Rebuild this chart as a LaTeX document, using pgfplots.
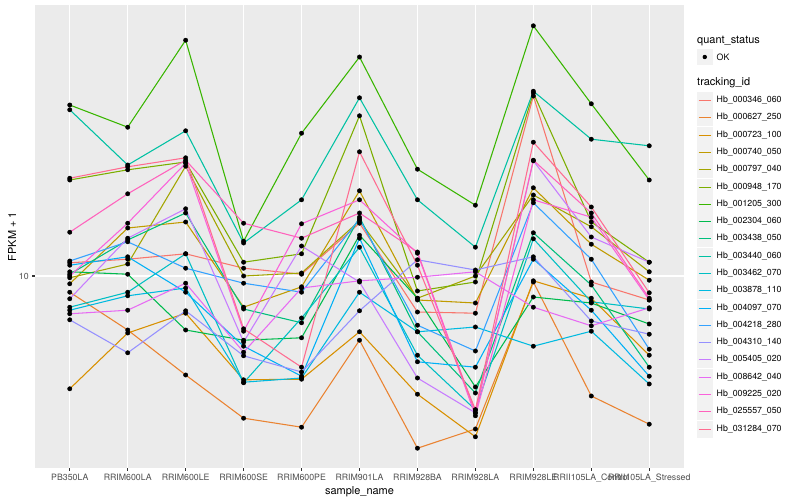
\documentclass[border=0pt]{standalone}
\usepackage{fontspec}
\setmainfont{TeX Gyre Heros}
\usepackage{pgfplots}
\usepackage{pgfplotstable}
\pgfplotsset{compat=1.18}

\definecolor{panelbg}{HTML}{EBEBEB}
\definecolor{keybg}{HTML}{F2F2F2}
\definecolor{tickcol}{HTML}{333333}
\definecolor{ticktext}{HTML}{4D4D4D}
% ggplot hue palette, 20 levels
\definecolor{s01}{HTML}{F8766D}
\definecolor{s02}{HTML}{EA8331}
\definecolor{s03}{HTML}{D89000}
\definecolor{s04}{HTML}{C09B00}
\definecolor{s05}{HTML}{A3A500}
\definecolor{s06}{HTML}{7CAE00}
\definecolor{s07}{HTML}{39B600}
\definecolor{s08}{HTML}{00BB4E}
\definecolor{s09}{HTML}{00BF7D}
\definecolor{s10}{HTML}{00C1A3}
\definecolor{s11}{HTML}{00BFC4}
\definecolor{s12}{HTML}{00BAE0}
\definecolor{s13}{HTML}{00B0F6}
\definecolor{s14}{HTML}{35A2FF}
\definecolor{s15}{HTML}{9590FF}
\definecolor{s16}{HTML}{C77CFF}
\definecolor{s17}{HTML}{E76BF3}
\definecolor{s18}{HTML}{FA62DB}
\definecolor{s19}{HTML}{FF62BC}
\definecolor{s20}{HTML}{FF6C91}

% log10(FPKM + 1), one row per sample (1 = PB350LA ... 11 = RRII105LA_Stressed)
\pgfplotstableread{
x  s01   s02   s03   s04   s05   s06   s07   s08   s09   s10   s11   s12   s13   s14   s15   s16   s17   s18   s19   s20
1  1.022 0.973 0.812 0.987 0.997 1.160 1.285 1.007 1.003 1.277 0.948 0.943 1.018 1.025 0.927 0.962 0.937 1.000 1.073 1.163
2  1.028 0.910 0.905 1.080 1.020 1.177 1.248 1.003 1.060 1.185 0.973 0.967 1.032 1.057 0.872 1.063 0.943 1.088 1.137 1.182
3  1.037 0.835 0.938 1.090 1.183 1.190 1.393 0.910 1.105 1.242 1.037 0.980 0.973 1.013 0.942 1.112 0.988 1.188 1.193 1.197
4  1.013 0.763 0.827 0.948 1.000 1.023 1.058 0.893 0.945 1.055 0.822 0.823 0.883 0.988 0.867 0.890 0.873 0.908 1.088 0.912
5  1.003 0.748 0.828 0.982 1.005 1.037 1.238 0.897 0.922 1.127 0.930 0.830 0.833 0.973 0.840 1.050 0.980 1.087 1.063 0.848
6  1.088 0.893 0.907 1.142 1.092 1.267 1.365 1.068 1.098 1.297 1.048 0.973 1.063 1.095 0.942 0.990 0.992 1.127 1.105 1.207
7  0.940 0.713 0.803 0.960 0.963 0.975 1.178 0.963 0.907 1.127 0.868 0.907 0.857 0.918 1.027 0.830 0.998 1.038 1.040 1.018
8  0.938 0.745 0.732 0.955 1.000 0.990 1.118 0.815 0.805 1.048 0.777 0.915 0.848 0.875 1.010 0.772 1.007 0.767 0.772 0.777
9  1.300 0.990 0.992 1.147 1.135 1.305 1.417 0.965 1.072 1.308 1.062 0.883 1.028 1.122 1.032 1.192 0.948 1.127 1.193 1.223
10 0.990 0.800 0.963 1.053 1.082 1.090 1.287 0.955 0.985 1.228 0.957 0.908 0.943 1.028 0.925 1.065 0.917 1.098 1.105 1.115
11 0.960 0.753 0.868 0.993 1.007 1.023 1.160 0.920 0.848 1.217 0.945 0.820 0.833 0.878 0.903 1.023 0.947 0.960 0.963 0.972
}\fpkm

\begin{document}
\begin{tikzpicture}[x=1bp,y=1bp]
\path[use as bounding box] (-35,-32) rectangle (765,468);
\begin{axis}[
    at={(0,0)}, anchor=south west, scale only axis,
    width=649bp, height=463bp,
    xmin=0.4, xmax=11.6, ymin=0.680, ymax=1.4517,
    axis background/.style={fill=panelbg},
    axis line style={draw=none},
    xtick={1,...,11},
    xticklabels={PB350LA,RRIM600LA,RRIM600LE,RRIM600SE,RRIM600PE,RRIM901LA,RRIM928BA,RRIM928LA,RRIM928LE,RRII105LA\_Control,RRII105LA\_Stressed},
    ytick={1}, yticklabels={10},
    xtick pos=bottom, ytick pos=left,
    grid=major, major grid style={white, line width=1.07bp},
    tick align=outside, major tick length=2.75bp,
    tick style={tickcol, line width=1.07bp},
    ticklabel style={font=\fontsize{8.8}{10}\selectfont, text=ticktext},
    xlabel={sample\_name}, ylabel={FPKM + 1},
    every axis x label/.style={at={(axis description cs:0.5,-0.0518)}, anchor=center, font=\fontsize{11}{13}\selectfont},
    every axis y label/.style={at={(axis description cs:-0.0354,0.5)}, rotate=90, anchor=center, font=\fontsize{11}{13}\selectfont},
]
\pgfplotsinvokeforeach{s01,s02,s03,s04,s05,s06,s07,s08,s09,s10,s11,s12,s13,s14,s15,s16,s17,s18,s19,s20}{
  \addplot[#1, line width=1.07bp, no marks] table[x=x, y=#1]{\fpkm};
}
\pgfplotsinvokeforeach{s01,s02,s03,s04,s05,s06,s07,s08,s09,s10,s11,s12,s13,s14,s15,s16,s17,s18,s19,s20}{
  \addplot[only marks, mark=*, mark size=2.2bp, black] table[x=x, y=#1]{\fpkm};
}
\end{axis}

% legend
\node[anchor=west, inner sep=0, font=\fontsize{11}{13}\selectfont] at (662,427.3) {quant\_status};
\fill[keybg] (661.7,402.7) rectangle (678,419.3);
\fill[black] (669.8,411) circle (2.2);
\node[anchor=west, inner sep=0, font=\fontsize{8.8}{10}\selectfont] at (681.5,411) {OK};
\node[anchor=west, inner sep=0, font=\fontsize{11}{13}\selectfont] at (662,385.5) {tracking\_id};
\foreach \col/\name [count=\k from 0] in {
  s01/Hb\_000346\_060, s02/Hb\_000627\_250, s03/Hb\_000723\_100, s04/Hb\_000740\_050,
  s05/Hb\_000797\_040, s06/Hb\_000948\_170, s07/Hb\_001205\_300, s08/Hb\_002304\_060,
  s09/Hb\_003438\_050, s10/Hb\_003440\_060, s11/Hb\_003462\_070, s12/Hb\_003878\_110,
  s13/Hb\_004097\_070, s14/Hb\_004218\_280, s15/Hb\_004310\_140, s16/Hb\_005405\_020,
  s17/Hb\_008642\_040, s18/Hb\_009225\_020, s19/Hb\_025557\_050, s20/Hb\_031284\_070} {
  \pgfmathsetmacro\yy{467.5-floor(100.7+17.28*\k)}
  \fill[keybg] (661.7,\yy-8.2) rectangle (678,\yy+8.2);
  \draw[color=\col, line width=1.3bp] (663.5,\yy) -- (676.2,\yy);
  \node[anchor=west, inner sep=0, font=\fontsize{8.8}{10}\selectfont] at (681.5,\yy) {\name};
}
\end{tikzpicture}
\end{document}
